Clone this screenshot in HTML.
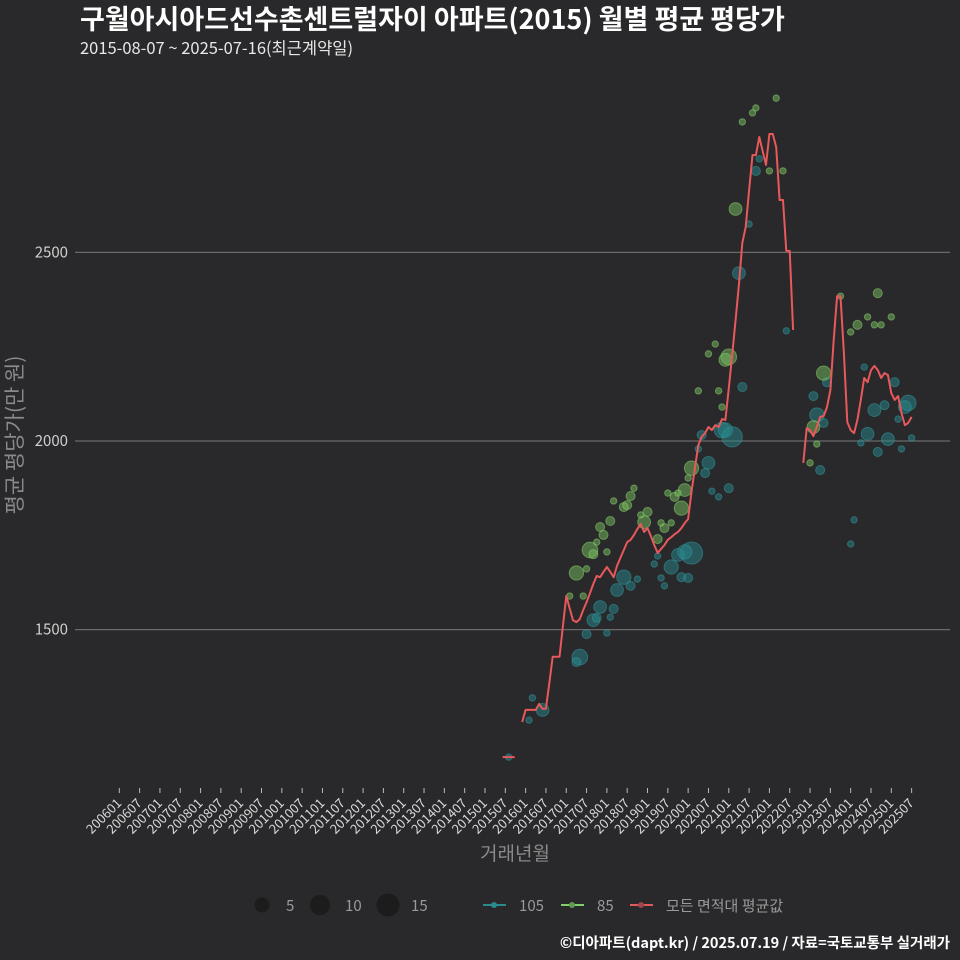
<!DOCTYPE html>
<html><head><meta charset="utf-8">
<style>
html,body{margin:0;padding:0;background:#29282a;}
svg{display:block;font-family:"Noto Sans CJK KR","Liberation Sans",sans-serif;}
</style></head>
<body>
<svg id="chart" width="960" height="960" viewBox="0 0 960 960" xmlns="http://www.w3.org/2000/svg">
<rect x="0" y="0" width="960" height="960" fill="#29282a"/>
<text x="80" y="29" font-size="27" font-weight="bold" fill="#ffffff">구월아시아드선수촌센트럴자이 아파트(2015) 월별 평균 평당가</text>
<text x="80" y="54" font-size="16.5" fill="#e8e8e8">2015-08-07 ~ 2025-07-16(최근계약일)</text>
<g id="grid"></g>
<g id="yaxis"></g>
<g id="xaxis"></g>
<g id="bubbles"></g>
<g id="line"></g>
<text transform="translate(22,435) rotate(-90)" text-anchor="middle" font-size="21" fill="#8a8a8a">평균 평당가(만 원)</text>
<text x="515" y="860" text-anchor="middle" font-size="19" fill="#8a8a8a">거래년월</text>
<g>
  <g><circle cx="262" cy="905" r="7.5" fill="#1c1c1d"/><text x="286" y="911" font-size="15" fill="#9a9a9a">5</text></g>
  <g><circle cx="320" cy="905" r="10" fill="#1c1c1d"/><text x="345" y="911" font-size="15" fill="#9a9a9a">10</text></g>
  <g><circle cx="388" cy="905" r="11.5" fill="#1c1c1d"/><text x="411" y="911" font-size="15" fill="#9a9a9a">15</text></g>
  <g><line x1="483" y1="905" x2="506" y2="905" stroke="#2a8a8c" stroke-width="2"/><circle cx="494" cy="905" r="3" fill="#2a8a8c"/><text x="519" y="911" font-size="15" fill="#9a9a9a">105</text></g>
  <g><line x1="561" y1="905" x2="584" y2="905" stroke="#7fd06a" stroke-width="2"/><circle cx="572" cy="905" r="3" fill="#5f9a50"/><text x="597" y="911" font-size="15" fill="#9a9a9a">85</text></g>
  <g><line x1="630" y1="905" x2="653" y2="905" stroke="#e05a5c" stroke-width="2"/><circle cx="641" cy="905" r="3" fill="#a04548"/><text x="666" y="911" font-size="15" fill="#9a9a9a">모든 면적대 평균값</text></g>
</g>
<text x="950" y="948" text-anchor="end" font-size="14.5" font-weight="bold" fill="#ffffff">©디아파트(dapt.kr) / 2025.07.19 / 자료=국토교통부 실거래가</text>
</svg>
<script>
// ---- data ----
const yTicks = [1500, 2000, 2500];
const xTickLabels = ["200601","200607","200701","200707","200801","200807","200901","200907","201001","201007","201101","201107","201201","201207","201301","201307","201401","201407","201501","201507","201601","201607","201701","201707","201801","201807","201901","201907","202001","202007","202101","202107","202201","202207","202301","202307","202401","202407","202501","202507"];
const lineStart = "2015-08";
const lineValues = [1162,null,null,null,1255,1287,1287,1287,1287,1303,1290,1290,1358,1428,1428,1428,1509,1589,1557,1525,1520,1528,1552,1573,1597,1621,1642,1639,1653,1666,1653,1639,1669,1690,1711,1732,1738,1751,1767,1780,1759,1769,1748,1724,1703,1714,1724,1738,1745,1753,1759,1769,1783,1793,1865,1928,1989,2011,2021,2037,2029,2042,2037,2058,2056,2140,2228,2321,2414,2525,2567,2665,2758,2758,2806,2769,2732,2814,2814,2779,2639,2639,2504,2504,2294,null,null,1942,2034,2029,2013,2037,2064,2066,2090,2135,2268,2384,2384,2233,2050,2029,2021,2056,2109,2167,2156,2188,2199,2188,2167,2180,2175,2127,2109,2119,2074,2042,2048,2064];
const tealMonths = ["2016-02","2016-03","2016-06","2015-08","2017-05","2017-04","2017-07","2017-09","2017-10","2017-11","2018-03","2018-01","2018-02","2018-04","2018-06","2018-08","2018-10","2019-08","2020-02","2019-10","2019-12","2019-11","2020-01","2019-05","2019-03","2019-04","2019-06","2020-07","2020-06","2020-08","2020-10","2021-01","2020-11","2020-05","2020-04","2021-02","2020-12","2021-05","2021-04","2021-07","2021-09","2021-10","2022-06","2023-06","2023-02","2023-03","2023-05","2023-04","2024-05","2024-08","2024-11","2025-02","2025-06","2025-05","2024-06","2024-12","2024-09","2025-03","2025-04","2025-07","2024-04","2024-02","2024-01"];
const tealValues = [1260,1319,1287,1162,1427,1414,1488,1525,1531,1560,1555,1491,1533,1605,1639,1616,1634,1666,1703,1698,1706,1639,1637,1637,1674,1695,1616,1942,1915,1867,1852,1875,2029,2016,1979,2011,2029,2143,2445,2575,2716,2748,2292,2156,2119,2069,2048,1923,2196,2082,2095,2156,2101,2090,2019,2005,1971,2058,1979,2008,1995,1791,1727];
const tealCounts = [1,1,4,1,6,2,2,4,2,4,2,1,1,4,5,2,1,5,12,4,5,2,2,1,1,1,1,4,2,1,1,2,6,2,1,10,5,2,4,1,2,1,1,2,2,5,2,2,1,4,2,2,6,4,4,4,2,1,1,1,1,1,1];
const greenMonths = ["2017-04","2017-07","2017-02","2017-06","2017-08","2017-09","2018-01","2017-10","2017-12","2017-11","2018-02","2018-03","2018-06","2018-07","2018-08","2018-09","2018-12","2019-01","2018-11","2019-04","2019-05","2019-06","2019-08","2019-09","2019-10","2019-12","2019-11","2019-07","2020-02","2020-01","2021-03","2021-01","2020-12","2020-11","2020-10","2020-04","2020-07","2020-09","2021-05","2021-08","2021-09","2022-03","2022-01","2022-05","2023-10","2024-09","2024-06","2025-01","2024-08","2024-10","2024-03","2024-01","2023-05","2023-02","2023-03","2023-01"];
const greenValues = [1650,1661,1589,1589,1711,1700,1706,1732,1751,1772,1788,1841,1825,1830,1854,1875,1785,1812,1804,1740,1783,1769,1783,1852,1862,1870,1822,1862,1928,1902,2615,2223,2215,2090,2133,2133,2231,2257,2846,2870,2883,2909,2716,2716,2384,2392,2329,2329,2308,2308,2308,2289,2180,2037,1992,1942];
const greenCounts = [5,1,1,1,6,2,1,1,2,2,2,1,2,2,2,1,4,2,1,2,1,2,1,2,1,4,5,1,5,1,4,6,4,1,1,1,1,1,1,1,1,1,1,1,1,2,1,1,1,1,2,1,5,4,1,1];

// ---- scales ----
const X0 = 119.3, MPX = 3.386;
function monthIndex(s){ const p = s.split("-"); return (+p[0]-2006)*12 + (+p[1]-1); }
function xScale(s){ return X0 + monthIndex(s)*MPX; }
function xIdx(i){ return X0 + i*MPX; }
function yScale(v){ return 441 - (v-2000)*0.3772; }
function rScale(n){ return 3.2*Math.sqrt(n); }
const NS = "http://www.w3.org/2000/svg";
function mk(tag, attrs, parent){ const e = document.createElementNS(NS, tag); for (const k in attrs) e.setAttribute(k, attrs[k]); parent.appendChild(e); return e; }

const grid = document.getElementById("grid");
const yaxis = document.getElementById("yaxis");
yTicks.forEach(v => {
  const gl = mk("line", {x1:75, x2:950, y1:yScale(v), y2:yScale(v), stroke:"#6a6a6a", "stroke-width":1.2}, grid);
  
  
  const t = mk("text", {x:68, y:yScale(v)+5, "text-anchor":"end", "font-size":15, fill:"#cfcfcf"}, yaxis);
  t.textContent = v;
  
  
});

const xaxis = document.getElementById("xaxis");
xTickLabels.forEach(l => {
  const x = xScale(l.slice(0,4) + "-" + l.slice(4));
  const tk = mk("line", {x1:x, x2:x, y1:788, y2:793, stroke:"#bbbbbb", "stroke-width":1}, xaxis);
  
  
  const t = mk("text", {transform:"translate(" + (x+3) + ",804) rotate(-45)", "text-anchor":"end", "font-size":13, fill:"#d8d8d8"}, xaxis);
  t.textContent = l;
  
  
});

const bub = document.getElementById("bubbles");
tealMonths.forEach((m, i) => {
  const c = mk("circle", {cx:xScale(m), cy:yScale(tealValues[i]), r:rScale(tealCounts[i]), fill:"rgba(40,135,140,0.5)", stroke:"rgba(50,150,155,0.55)", "stroke-width":1}, bub);
  
  
});
greenMonths.forEach((m, i) => {
  const c = mk("circle", {cx:xScale(m), cy:yScale(greenValues[i]), r:rScale(greenCounts[i]), fill:"rgba(120,190,95,0.5)", stroke:"rgba(135,205,105,0.55)", "stroke-width":1}, bub);
  
  
});

const lg = document.getElementById("line");
const s0 = monthIndex(lineStart);
let segs = [], cur = [];
lineValues.forEach((v, i) => {
  if (v === null) { if (cur.length) segs.push(cur); cur = []; }
  else cur.push([xIdx(s0+i), yScale(v)]);
});
if (cur.length) segs.push(cur);
segs.forEach(sg => {
  let d;
  if (sg.length === 1) d = "M" + (sg[0][0]-6) + "," + sg[0][1] + "L" + (sg[0][0]+6) + "," + sg[0][1];
  else d = sg.map((p, j) => (j ? "L" : "M") + p[0].toFixed(1) + "," + p[1].toFixed(1)).join("");
  const p = mk("path", {d:d, fill:"none", stroke:"#e8595b", "stroke-width":2, "stroke-linejoin":"round"}, lg);
  
  
});
</script>
</body></html>
